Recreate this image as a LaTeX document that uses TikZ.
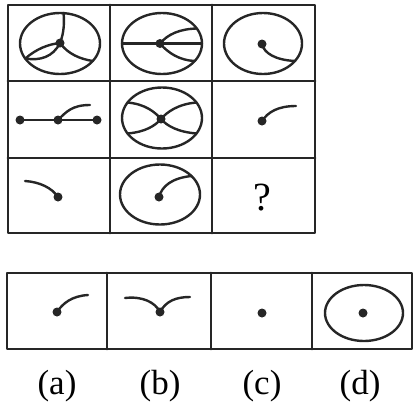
\documentclass[tikz,border=0pt]{standalone}
\usepackage{fontspec}
\setmainfont{Liberation Serif}
\begin{document}
\begin{tikzpicture}[x=1pt,y=-1pt, line cap=round, line join=round,
  frame/.style={line width=2.7pt, draw=black!85},
  fig/.style={line width=2.4pt, draw=black!85},
  dotn/.style={circle, fill=black!85, inner sep=0pt, minimum size=9pt},
  lbl/.style={font=\fontsize{35}{40}\selectfont, inner sep=0pt},
  qm/.style={font=\fontsize{40}{46}\selectfont, inner sep=0pt}]
\useasboundingbox (0,0) rectangle (414,407);

% ---------- top 3x3 grid ----------
\draw[frame] (8,5) rectangle (315,233);
\draw[frame] (110,5) -- (110,233);
\draw[frame] (212,5) -- (212,233);
\draw[frame] (8,81) -- (315,81);
\draw[frame] (8,158) -- (315,158);

% r1c1
\draw[fig] (60,43.5) ellipse [x radius=40, y radius=30.5];
\node[dotn] (d11) at (60,43) {};
\coordinate (t11) at (63.5,13);
\coordinate (r11) at (92.8,61);
\coordinate (l11) at (25.4,58.5);
\draw[fig] (d11.center) .. controls (64,33) and (64.5,22) .. (t11);
\draw[fig] (d11.center) .. controls (68,54) and (80,59) .. (r11);
\draw[fig] (l11) .. controls (36,49) and (49,44) .. (d11.center);
\draw[fig] (l11) .. controls (40,61) and (53,57) .. (d11.center);

% r1c2
\draw[fig] (162,43.5) ellipse [x radius=40, y radius=30.5];
\node[dotn] (d12) at (160,43.5) {};
\coordinate (a12) at (122,43.5);
\coordinate (b12) at (202,43.5);
\coordinate (u12) at (196.6,28.5);
\coordinate (w12) at (194.8,61);
\draw[fig] (a12) -- (b12);
\draw[fig] (d12.center) .. controls (168,34) and (180,29) .. (u12);
\draw[fig] (d12.center) .. controls (168,53) and (180,60.5) .. (w12);

% r1c3
\draw[fig] (263,43.5) ellipse [x radius=39, y radius=30.5];
\node[dotn] (d13) at (262,44) {};
\coordinate (e13) at (295,61);
\draw[fig] (d13.center) .. controls (264,53) and (275,60) .. (e13);

% r2c1
\node[dotn] (p21) at (20,120) {};
\node[dotn] (q21) at (58,120) {};
\node[dotn] (s21) at (97,120) {};
\coordinate (e21) at (90,105);
\draw[fig] (p21.center) -- (q21.center) -- (s21.center);
\draw[fig] (q21.center) .. controls (66,112) and (72,105) .. (e21);

% r2c2
\draw[fig] (162,118) ellipse [x radius=40, y radius=30.5];
\node[dotn] (d22) at (161,119) {};
\coordinate (ul22) at (127.4,102.5);
\coordinate (ur22) at (196.6,102.5);
\coordinate (ll22) at (127.4,133.5);
\coordinate (lr22) at (196.6,133.5);
\draw[fig] (ul22) .. controls (145,104) and (155,112) .. (d22.center)
  .. controls (167,112) and (178,104) .. (ur22);
\draw[fig] (ll22) .. controls (145,132) and (155,126) .. (d22.center)
  .. controls (167,126) and (178,132) .. (lr22);

% r2c3
\node[dotn] (d23) at (262,121) {};
\coordinate (e23) at (296,106);
\draw[fig] (d23.center) .. controls (268,112) and (278,106) .. (e23);

% r3c1
\node[dotn] (d31) at (58,197) {};
\coordinate (s31) at (25,181);
\draw[fig] (s31) .. controls (40,182) and (52,188) .. (d31.center);

% r3c2
\draw[fig] (160,194.5) ellipse [x radius=40, y radius=30];
\node[dotn] (d32) at (159,197) {};
\coordinate (e32) at (191.5,176);
\draw[fig] (d32.center) .. controls (162,186) and (172,178) .. (e32);

% r3c3
\node[qm] (q33) at (262,198) {?};

% ---------- answer row ----------
\draw[frame] (7,273) rectangle (412,349);
\draw[frame] (107,273) -- (107,349);
\draw[frame] (211,273) -- (211,349);
\draw[frame] (312,273) -- (312,349);

% (a)
\node[dotn] (da) at (57,312) {};
\coordinate (ea) at (88,295);
\draw[fig] (da.center) .. controls (63,303) and (72,296) .. (ea);

% (b)
\node[dotn] (db) at (160,312) {};
\coordinate (lb) at (125,298);
\coordinate (rb) at (190,297);
\draw[fig] (lb) .. controls (142,296) and (155,302) .. (db.center);
\draw[fig] (db.center) .. controls (166,301) and (176,297) .. (rb);

% (c)
\node[dotn] (dc) at (262,313) {};

% (d)
\draw[fig] (364,313) ellipse [x radius=39, y radius=28];
\node[dotn] (dd) at (363,313) {};

% labels
\node[lbl] (la) at (57,386) {(a)};
\node[lbl] (lbb) at (160,386) {(b)};
\node[lbl] (lc) at (262,386) {(c)};
\node[lbl] (ld) at (360,386) {(d)};
\end{tikzpicture}
\end{document}
